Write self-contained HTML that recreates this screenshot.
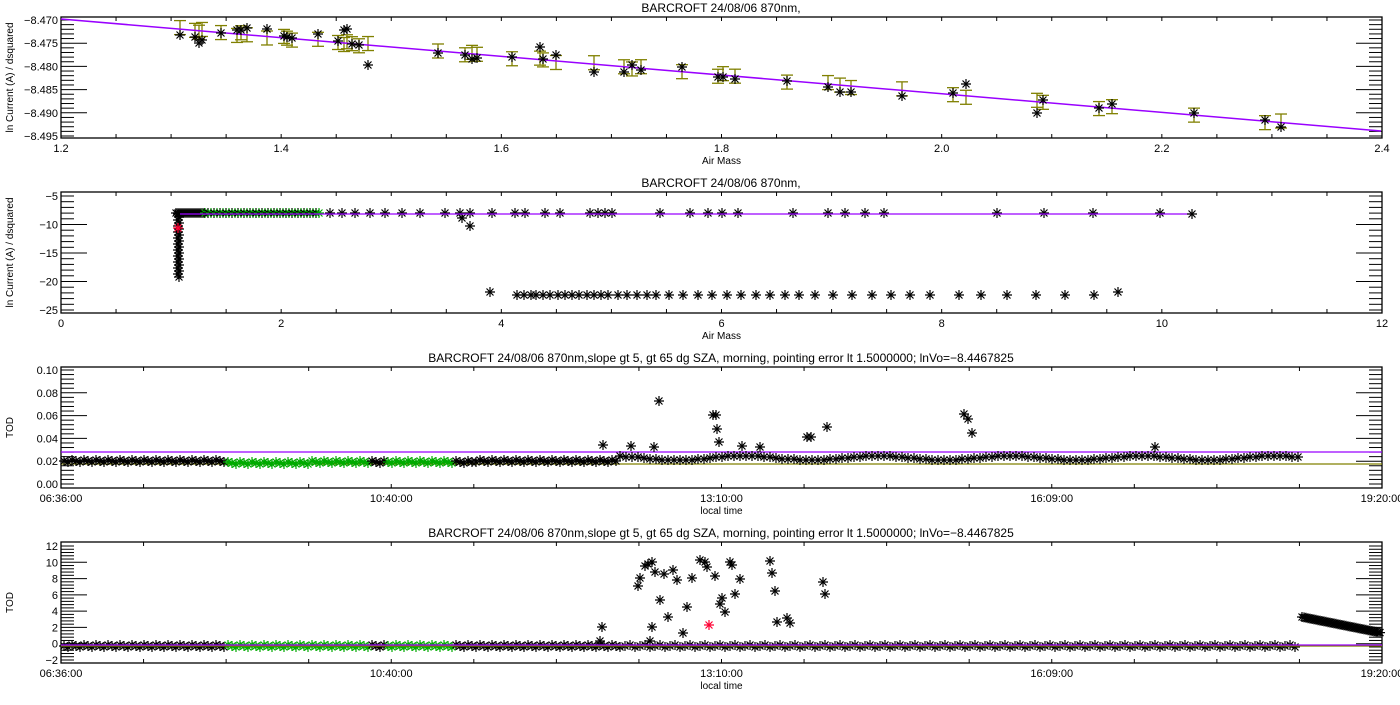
<!DOCTYPE html><html><head><style>body{margin:0;background:#fff}svg text{font-family:"Liberation Sans",sans-serif;fill:#000}</style></head><body>
<svg id="s" width="1400" height="700" xmlns="http://www.w3.org/2000/svg"></svg>
<script>
var s=document.getElementById('s'),h='';
function L(x1,y1,x2,y2,c,w){h+='<line x1="'+x1+'" y1="'+y1+'" x2="'+x2+'" y2="'+y2+'" stroke="'+(c||'#000')+'" stroke-width="'+(w||1)+'"/>';}
function T(x,y,t,sz,a,rot){h+='<text x="'+x+'" y="'+y+'" font-size="'+sz+'" text-anchor="'+(a||'middle')+'"'+(rot?' transform="rotate(-90 '+x+' '+y+')"':'')+'>'+t+'</text>';}
function st(x,y,c){c=c||'#000';var r=5,d=3.5;h+='<path d="M'+(x-r)+' '+y+'h'+2*r+'M'+x+' '+(y-r)+'v'+2*r+'M'+(x-d)+' '+(y-d)+'l'+2*d+' '+2*d+'M'+(x-d)+' '+(y+d)+'l'+2*d+' '+(-2*d)+'" stroke="'+c+'" stroke-width="1.2" fill="none"/>';}
var X0=61,X1=1382;
function frame(t,b,yt,ylab,xt,xlab,title){
 h+='<rect x="'+X0+'" y="'+t+'" width="'+(X1-X0)+'" height="'+(b-t)+'" fill="none" stroke="#000" stroke-width="1.3"/>';
 T(721,t-5,title,12);
 yt.forEach(function(v){L(X0,v[0],X0+(v[2]?26:13),v[0]);L(X1,v[0],X1-(v[2]?26:13),v[0]);if(v[1]!==null)T(X0-3,v[0]+4,v[1],11,'end');});
 xt.forEach(function(v){L(v[0],t,v[0],t+4);L(v[0],b,v[0],b-4);if(v[1]!==null)T(v[0],b+14,v[1],11);});
 T((X0+X1)/2,b+26,xlab,10);
 T(13,(t+b)/2,ylab,10,'middle',1);
}
function yticks(top,bot,n,labels,minor){var a=[];var N=n*minor;for(var i=0;i<=N;i++){var y=bot-(bot-top)*i/N;a.push([y,i%minor==0?labels[i/minor]:null,i%minor==0&&i>0&&i<N]);}return a;}
function xticks(n,labels,minor){var a=[];var N=n*minor;for(var i=0;i<=N;i++){var x=X0+(X1-X0)*i/N;a.push([x,i%minor==0?labels[i/minor]:null]);}return a;}
// Panel 1
frame(17,138,yticks(20,136,5,['&#8722;8.495','&#8722;8.490','&#8722;8.485','&#8722;8.480','&#8722;8.475','&#8722;8.470'],5),'ln Current (A) / dsquared',xticks(6,['1.2','1.4','1.6','1.8','2.0','2.2','2.4'],4),'Air Mass','BARCROFT 24/08/06 870nm,');
var p1=[[180,35],[195,37],[199,43],[202,40],[221,33],[237,30],[241,30],[247,28],[267,29],[284,36],[287,37],[292,38],[318,34],[338,41],[344,30],[347,29],[352,44],[359,45],[368,65],[438,53],[465,55],[472,59],[477,58],[512,57],[540,47],[543,59],[556,55],[594,72],[624,72],[632,65],[641,70],[682,67],[718,77],[723,77],[735,79],[787,81],[828,87],[840,92],[851,92],[902,96],[953,93],[966,84],[1037,113],[1043,100],[1099,108],[1112,104],[1194,113],[1265,120],[1281,127]];
p1.forEach(function(p,i){var ly=19+(p[0]-61)*112/1320;var c=ly+(i%3-1)*1.5;L(p[0],c-7,p[0],c+7,'#808000',1.3);L(p[0]-6,c-7,p[0]+6,c-7,'#808000',1.3);L(p[0]-6,c+7,p[0]+6,c+7,'#808000',1.3);});
L(61,19,1381,131,'#9900ff',1.5);
p1.forEach(function(p){st(p[0],p[1]);});
// Panel 2
frame(192,313,yticks(196,310,4,['&#8722;25','&#8722;20','&#8722;15','&#8722;10','&#8722;5'],5),'ln Current (A) / dsquared',xticks(6,['0','2','4','6','8','10','12'],4),'Air Mass','BARCROFT 24/08/06 870nm,');
for(var y=214;y<=278;y+=3)st(178+(y%2),y);
for(var x=176;x<205;x+=2)st(x,213);
for(var x=205;x<320;x+=3)st(x,213,x%2?'#00aa00':'#000');
[330,342,355,370,385,402,420,445,460,470,492,515,525,545,560,590,598,605,612,660,690,708,722,738,793,828,845,865,884,997,1044,1093,1160].forEach(function(x){st(x,213);});
st(462,218);st(470,226);
L(180,214,1192,214,'#9900ff',1.2);st(1192,214);
[490,518,525,532,538,545,552,560,568,575,582,590,598,605,612,622,632,642,652,662,675,690,705,720,735,750,765,780,795,810,826,845,865,885,905,925,945,975,998,1025,1055,1085,1115,1140].forEach(function(x,i){var nx=490+(x-490)*(1118-490)/(1140-490);st(Math.round(nx),x<500?292:(i==43?292:295));});
st(178,228,'#ff0033');
// Panel 3
var tl=['06:36:00','10:40:00','13:10:00','16:09:00','19:20:00'];
function tt(){var a=[];for(var i=0;i<=4;i++)a.push([X0+(X1-X0)*i/4,tl[i]]);for(var i=0;i<16;i++)if(i%4)a.push([X0+(X1-X0)*i/16,null]);return a;}
frame(367,488,yticks(370,484,5,['0.00','0.02','0.04','0.06','0.08','0.10'],5),'TOD',tt(),'local time','BARCROFT 24/08/06 870nm,slope gt 5, gt 65 dg SZA, morning, pointing error lt 1.5000000; lnVo=&#8722;8.4467825');
L(X0,452,X1,452,'#9900ff',1.3);L(X0,464,X1,464,'#808000',1.3);
for(var x=64;x<1300;x+=(x<620?4:6)){var g=(x>225&&x<370)||(x>385&&x<455);var y=x<225?461:x<620?463-(x-225)*0.006:457+Math.sin(x)*2;st(x,Math.round(y+(x%3-1)),g?'#00aa00':'#000');}
[[659,401],[713,415],[716,415],[717,429],[719,442],[654,447],[603,445],[631,446],[760,447],[742,446],[807,437],[811,437],[827,427],[964,414],[968,419],[972,433],[1155,447]].forEach(function(p){st(p[0],p[1]);});
// Panel 4
frame(542,663,yticks(546,660,7,['&#8722;2','0','2','4','6','8','10','12'],5),'TOD',tt(),'local time','BARCROFT 24/08/06 870nm,slope gt 5, gt 65 dg SZA, morning, pointing error lt 1.5000000; lnVo=&#8722;8.4467825');
for(var x=64;x<1300;x+=(x<620?4:5)){var g=(x>225&&x<370)||(x>385&&x<455);st(x,646+(x%3-1),g?'#00aa00':'#000');}
[[602,627],[652,627],[638,586],[640,578],[645,566],[648,564],[652,562],[655,572],[660,600],[664,574],[668,617],[673,570],[677,580],[683,633],[687,607],[692,578],[700,560],[705,562],[707,567],[715,576],[720,604],[722,598],[725,612],[730,562],[732,565],[735,594],[740,579],[770,561],[772,573],[775,591],[777,622],[787,618],[790,623],[823,582],[825,594],[600,641],[650,641]].forEach(function(p){st(p[0],p[1]);});
st(709,625,'#ff0033');
for(var x=1302;x<1382;x+=2)st(x,617+(x-1302)*0.2);
L(X0,646,X1,646,'#808000',1.3);L(X0,645,X1,645,'#9900ff',1.3);
s.innerHTML=h;
</script></body></html>
